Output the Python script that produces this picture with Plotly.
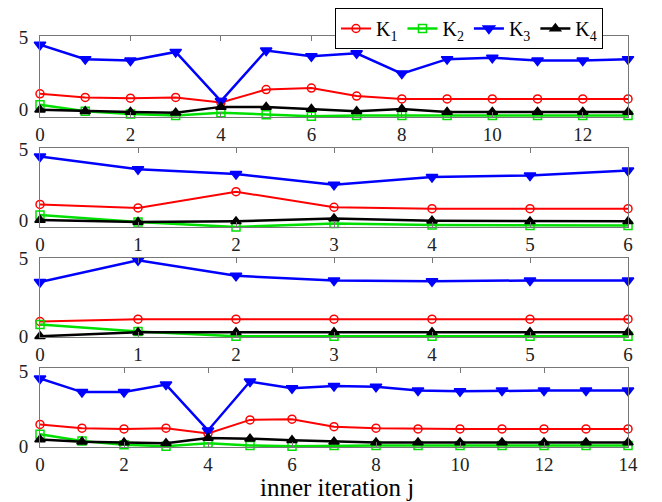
import plotly.graph_objects as go
from plotly.subplots import make_subplots

# ---- data ----
x1 = list(range(14))
k1_p1 = [1.1, 0.85, 0.8, 0.85, 0.5, 1.4, 1.5, 0.95, 0.75, 0.75, 0.75, 0.75, 0.75, 0.75]
k2_p1 = [0.35, -0.1, -0.3, -0.4, -0.2, -0.35, -0.45, -0.4, -0.4, -0.4, -0.4, -0.4, -0.4, -0.4]
k3_p1 = [4.5, 3.5, 3.4, 4.0, 0.6, 4.1, 3.7, 3.9, 2.5, 3.5, 3.6, 3.4, 3.4, 3.5]
k4_p1 = [0.0, -0.1, -0.15, -0.2, 0.2, 0.2, 0.05, -0.1, 0.05, -0.15, -0.15, -0.15, -0.15, -0.15]

x2 = list(range(7))
k1_p2 = [1.1, 0.85, 2.0, 0.9, 0.8, 0.8, 0.8]
k2_p2 = [0.35, -0.15, -0.5, -0.25, -0.35, -0.4, -0.4]
k3_p2 = [4.5, 3.6, 3.25, 2.5, 3.05, 3.15, 3.5]
k4_p2 = [0.0, -0.15, -0.1, 0.1, -0.05, -0.1, -0.1]

x3 = list(range(7))
k1_p3 = [0.95, 1.1, 1.1, 1.1, 1.1, 1.1, 1.1]
k2_p3 = [0.75, 0.3, 0.0, 0.0, 0.0, 0.0, 0.0]
k3_p3 = [3.5, 4.9, 3.9, 3.6, 3.55, 3.6, 3.6]
k4_p3 = [0.0, 0.25, 0.25, 0.25, 0.25, 0.25, 0.25]

x4 = list(range(15))
k1_p4 = [1.45, 1.2, 1.15, 1.2, 0.85, 1.75, 1.8, 1.3, 1.2, 1.15, 1.15, 1.15, 1.15, 1.15, 1.15]
k2_p4 = [0.8, 0.35, 0.1, 0.0, 0.2, 0.05, 0.0, 0.05, 0.05, 0.05, 0.05, 0.05, 0.05, 0.05, 0.05]
k3_p4 = [4.5, 3.6, 3.6, 4.1, 1.05, 4.3, 3.85, 4.0, 3.95, 3.7, 3.65, 3.7, 3.7, 3.7, 3.7]
k4_p4 = [0.45, 0.3, 0.25, 0.2, 0.55, 0.5, 0.4, 0.3, 0.25, 0.25, 0.25, 0.25, 0.25, 0.25, 0.25]

names = ["K<sub>1</sub>", "K<sub>2</sub>", "K<sub>3</sub>", "K<sub>4</sub>"]
x_tick_steps = [2, 1, 1, 2]
x_ranges = [[0, 13], [0, 6], [0, 6], [0, 14]]
y_ranges = [[-0.5, 5.1], [-0.5, 5.1], [-0.05, 5.05], [-0.05, 5.2]]
x_title = "inner iteration j"

panels = [
    (x1, [k1_p1, k2_p1, k3_p1, k4_p1]),
    (x2, [k1_p2, k2_p2, k3_p2, k4_p2]),
    (x3, [k1_p3, k2_p3, k3_p3, k4_p3]),
    (x4, [k1_p4, k2_p4, k3_p4, k4_p4]),
]

styles = [
    dict(color="#ff0000", symbol="circle-open", size=8, lw=2),
    dict(color="#00e000", symbol="square-open", size=8, lw=2.5),
    dict(color="#0000ff", symbol="triangle-down", size=10, lw=2.5),
    dict(color="#000000", symbol="triangle-up", size=9, lw=2.5),
]

# page has an 8px body margin; figure coordinates = page coordinates - 8
OFF = 8
W, H = 662 - OFF, 502 - OFF
L, R = 40 - OFF, W - (628 - OFF)
pix = [(36, 117), (148, 227), (258, 337), (368, 447)]

fig = make_subplots(rows=4, cols=1)
for r, (xs, series) in enumerate(panels, start=1):
    for i, ys in enumerate(series):
        st = styles[i]
        fig.add_trace(
            go.Scatter(
                x=xs, y=ys, mode="lines+markers", name=names[i],
                line=dict(color=st["color"], width=st["lw"]),
                marker=dict(symbol=st["symbol"], size=st["size"], color=st["color"],
                            line=dict(color=st["color"], width=1.5)),
                showlegend=(r == 1), cliponaxis=False,
            ),
            row=r, col=1,
        )

font_family = "Liberation Serif"
for r in range(1, 5):
    top, bot = pix[r - 1]
    ya = "yaxis" if r == 1 else f"yaxis{r}"
    fig.layout[ya].domain = [1 - (bot - OFF) / H, 1 - (top - OFF) / H]
    fig.update_xaxes(row=r, col=1, range=x_ranges[r - 1], dtick=x_tick_steps[r - 1], tick0=0,
                     showgrid=False, zeroline=False, showline=True, linecolor="#777777",
                     linewidth=1, mirror="ticks", ticks="inside", ticklen=5, tickcolor="#777777",
                     ticklabelstandoff=0, automargin=False,
                     tickfont=dict(family=font_family, size=19, color="#222"))
    fig.update_yaxes(row=r, col=1, range=y_ranges[r - 1], tickvals=[0, 5],
                     showgrid=False, zeroline=False, showline=True, linecolor="#777777",
                     linewidth=1, mirror=True, ticks="", ticklabelstandoff=7, automargin=False,
                     tickfont=dict(family=font_family, size=19, color="#222"))

fig.add_annotation(text=x_title, xref="paper", yref="paper", x=(337 - OFF - L) / (W - L - R),
                   y=1 - (487 - OFF) / H,
                   xanchor="center", yanchor="middle", showarrow=False,
                   font=dict(family=font_family, size=25, color="#000"))

fig.update_layout(
    width=W, height=H,
    margin=dict(l=L, r=R, t=0, b=0, autoexpand=False),
    paper_bgcolor="white", plot_bgcolor="white",
    font=dict(family=font_family, color="#000"),
    legend=dict(orientation="h", x=(335 - OFF - L) / (W - L - R), y=1.0, xanchor="left", yanchor="top",
                bgcolor="white", bordercolor="#000", borderwidth=1,
                font=dict(family=font_family, size=20), itemwidth=30,
                tracegroupgap=0, traceorder="normal"),
)

fig.write_html("out.html")
